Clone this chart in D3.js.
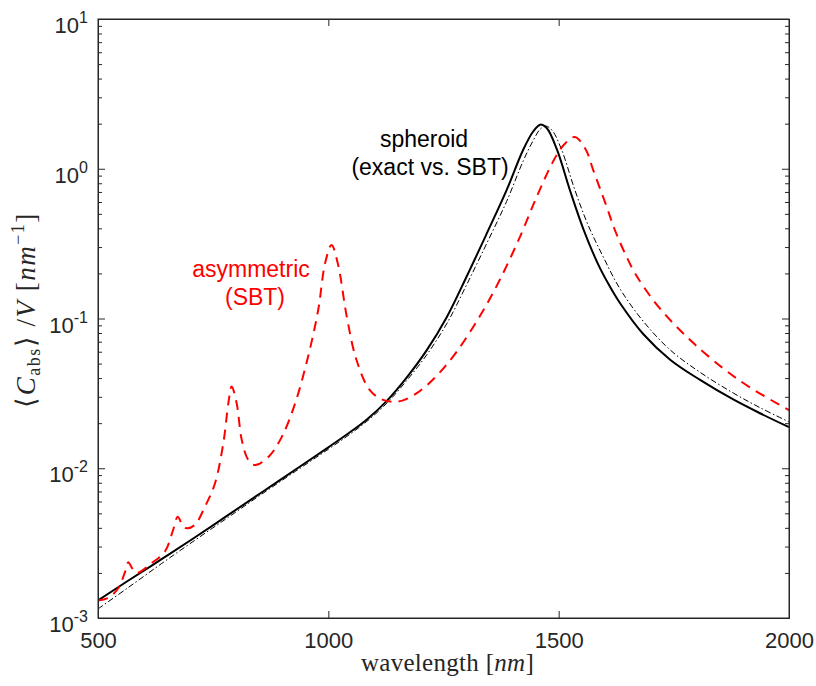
<!DOCTYPE html>
<html>
<head>
<meta charset="utf-8">
<script src="https://cdn.jsdelivr.net/npm/d3@7"></script>
<style>
  body { margin: 0; background: #fff; }
  svg { display: block; }
</style>
</head>
<body>
<div id="chart"></div>
<script>
// exact spheroid (solid black)
var exactWl  = [500, 566, 638, 710, 783, 855, 928, 1000, 1040, 1083, 1127, 1170, 1213, 1257, 1300, 1344, 1387, 1423, 1445, 1460, 1474, 1496, 1525, 1553, 1586, 1610, 1633, 1684, 1742, 1807, 1879, 1937, 2000];
var exactVal = [1.31e-3, 1.78e-3, 2.47e-3, 3.45e-3, 4.88e-3, 6.89e-3, 9.77e-3, 0.0138, 0.0168, 0.0211, 0.0282, 0.0403, 0.061, 0.102, 0.19, 0.37, 0.72, 1.34, 1.78, 1.97, 1.87, 1.35, 0.71, 0.40, 0.229, 0.166, 0.127, 0.0785, 0.0531, 0.0389, 0.0288, 0.0233, 0.0188];

// spheroid SBT (thin dash-dot)
var sbtWl  = [500, 566, 638, 710, 783, 855, 928, 1000, 1040, 1083, 1127, 1170, 1213, 1257, 1300, 1344, 1387, 1423, 1445, 1460, 1472, 1486, 1506, 1535, 1563, 1597, 1633, 1684, 1742, 1807, 1879, 1937, 2000];
var sbtVal = [1.15e-3, 1.60e-3, 2.31e-3, 3.30e-3, 4.71e-3, 6.70e-3, 9.51e-3, 0.0134, 0.0163, 0.0205, 0.0272, 0.0385, 0.0569, 0.0923, 0.1675, 0.318, 0.605, 1.127, 1.55, 1.84, 1.93, 1.80, 1.35, 0.724, 0.427, 0.257, 0.158, 0.0955, 0.0617, 0.0437, 0.0318, 0.0254, 0.0204];

// asymmetric SBT (red dashed)
var asymWl  = [500, 522, 544, 558, 566, 574, 584, 616, 645, 663, 673, 683, 692, 710, 732, 754, 772, 783, 790, 801, 812, 826, 841, 870, 899, 928, 956, 978, 993, 1007, 1021, 1040, 1061, 1090, 1119, 1152, 1192, 1235, 1278, 1329, 1372, 1416, 1452, 1488, 1510, 1535, 1559, 1575, 1604, 1622, 1644, 1666, 1705, 1749, 1796, 1857, 1915, 2000];
var asymVal = [1.31e-3, 1.36e-3, 1.58e-3, 2.0e-3, 2.36e-3, 2.15e-3, 2.0e-3, 2.32e-3, 2.77e-3, 3.87e-3, 4.75e-3, 4.2e-3, 3.98e-3, 4.18e-3, 5.53e-3, 7.94e-3, 0.0147, 0.0272, 0.0351, 0.0272, 0.0155, 0.0114, 0.0105, 0.0119, 0.0162, 0.0272, 0.0556, 0.114, 0.234, 0.31, 0.23, 0.103, 0.053, 0.0333, 0.0286, 0.0279, 0.0317, 0.0414, 0.0597, 0.1038, 0.1807, 0.351, 0.646, 1.12, 1.43, 1.63, 1.34, 0.98, 0.56, 0.39, 0.272, 0.20, 0.133, 0.0927, 0.067, 0.0465, 0.0347, 0.0244];

var xTicks = [500, 1000, 1500, 2000];
var yTicks = [1e-3, 1e-2, 1e-1, 1e0, 1e1];

var W = 816, H = 686;
var margin = {left: 98, right: 789, top: 19, bottom: 618};
var axisColor = "#262626";

var svg = d3.select("#chart").append("svg")
    .attr("width", W)
    .attr("height", H)
    .style("background", "#fff");

var x = d3.scaleLinear().domain([500, 2000]).range([margin.left, margin.right]);
var y = d3.scaleLog().domain([1e-3, 10]).range([margin.bottom, margin.top]);

// minor log ticks
var yMinor = [];
yTicks.slice(0, -1).forEach(function(p) {
    for (var k = 2; k <= 9; k++) yMinor.push(p * k);
});

svg.append("defs").append("clipPath").attr("id", "clip")
  .append("rect").attr("x", margin.left).attr("y", margin.top)
  .attr("width", margin.right - margin.left).attr("height", margin.bottom - margin.top);

// curves
function pts(ws, vs) { return ws.map(function(w, i) { return {w: w, v: vs[i]}; }); }
var line = d3.line()
    .x(function(d) { return x(d.w); })
    .y(function(d) { return y(d.v); })
    .curve(d3.curveCatmullRom.alpha(0.5));

var plot = svg.append("g").attr("clip-path", "url(#clip)");

plot.append("path")
    .datum(pts(sbtWl, sbtVal))
    .attr("d", line)
    .attr("fill", "none")
    .attr("stroke", "#000")
    .attr("stroke-width", 1)
    .attr("stroke-dasharray", "6,2.5,1.5,2.5");

plot.append("path")
    .datum(pts(exactWl, exactVal))
    .attr("d", line)
    .attr("fill", "none")
    .attr("stroke", "#000")
    .attr("stroke-width", 2);

plot.append("path")
    .datum(pts(asymWl, asymVal))
    .attr("d", line)
    .attr("fill", "none")
    .attr("stroke", "#ff0000")
    .attr("stroke-width", 2)
    .attr("stroke-dasharray", "10,7");

// axes (ticks inward, box)
function styleAxis(g) {
    g.selectAll("path, line").attr("stroke", axisColor);
    g.selectAll("text").attr("fill", axisColor)
        .style("font-family", "'Liberation Sans', Arial, sans-serif")
        .style("font-size", "22px");
}

var xAxis = svg.append("g")
    .attr("transform", "translate(0," + margin.bottom + ")")
    .call(d3.axisBottom(x).tickValues(xTicks).tickSizeInner(-7).tickSizeOuter(0).tickPadding(14)
        .tickFormat(d3.format("d")));
styleAxis(xAxis);

svg.append("g")
    .attr("transform", "translate(0," + margin.top + ")")
    .call(d3.axisTop(x).tickValues(xTicks).tickSizeInner(-7).tickSizeOuter(0).tickFormat(""))
    .call(styleAxis);

var yAxis = svg.append("g")
    .attr("transform", "translate(" + margin.left + ",0)")
    .call(d3.axisLeft(y).tickValues(yTicks).tickSizeInner(-7).tickSizeOuter(0).tickPadding(10).tickFormat(""));
styleAxis(yAxis);
yAxis.selectAll(".tick text").each(function(d) {
    var t = d3.select(this).attr("dy", "0.62em");
    t.append("tspan").text("10");
    t.append("tspan").attr("dy", -10).style("font-size", "16px")
        .text(String(Math.round(Math.log10(d))));
});

svg.append("g")
    .attr("transform", "translate(" + margin.left + ",0)")
    .call(d3.axisLeft(y).tickValues(yMinor).tickSizeInner(-4).tickSizeOuter(0).tickFormat(""))
    .call(styleAxis);

svg.append("g")
    .attr("transform", "translate(" + margin.right + ",0)")
    .call(d3.axisRight(y).tickValues(yTicks).tickSizeInner(-7).tickSizeOuter(0).tickFormat(""))
    .call(styleAxis);

svg.append("g")
    .attr("transform", "translate(" + margin.right + ",0)")
    .call(d3.axisRight(y).tickValues(yMinor).tickSizeInner(-4).tickSizeOuter(0).tickFormat(""))
    .call(styleAxis);

svg.append("rect")
    .attr("x", margin.left).attr("y", margin.top)
    .attr("width", margin.right - margin.left).attr("height", margin.bottom - margin.top)
    .attr("fill", "none")
    .attr("stroke", axisColor)
    .attr("stroke-width", 1);

// axis titles
var serif = "'Liberation Serif', 'Times New Roman', serif";

var xt = svg.append("text")
    .attr("x", (margin.left + margin.right) / 2 + 4)
    .attr("y", 671)
    .attr("text-anchor", "middle")
    .attr("fill", axisColor)
    .style("font-family", serif)
    .style("font-size", "25px")
    .style("letter-spacing", "0.3px");
xt.append("tspan").text("wavelength [");
xt.append("tspan").style("font-style", "italic").text("nm");
xt.append("tspan").text("]");

var yt = svg.append("text")
    .attr("transform", "translate(35,310) rotate(-90)")
    .attr("text-anchor", "middle")
    .attr("fill", axisColor)
    .style("font-family", serif)
    .style("font-size", "27px")
    .style("letter-spacing", "1.5px");
yt.append("tspan").text("\u27E8");
yt.append("tspan").style("font-style", "italic").text("C");
yt.append("tspan").attr("dy", 5).style("font-size", "18px").text("abs");
yt.append("tspan").attr("dy", -5).text("\u27E9 /");
yt.append("tspan").style("font-style", "italic").text("V");
yt.append("tspan").text("  [");
yt.append("tspan").style("font-style", "italic").text("nm");
yt.append("tspan").attr("dy", -11).style("font-size", "18px").text("\u22121");
yt.append("tspan").attr("dy", 11).text("]");

// annotations
var sans = "'Liberation Sans', Arial, sans-serif";
function note(txt, cx, cy, color) {
    svg.append("text")
        .attr("x", cx).attr("y", cy)
        .attr("text-anchor", "middle")
        .attr("fill", color)
        .style("font-family", sans)
        .style("font-size", "23px")
        .text(txt);
}
note("spheroid", 424, 147, "#000");
note("(exact vs. SBT)", 430, 175, "#000");
note("asymmetric", 251, 277, "#ff0000");
note("(SBT)", 255, 305, "#ff0000");
</script>
</body>
</html>
